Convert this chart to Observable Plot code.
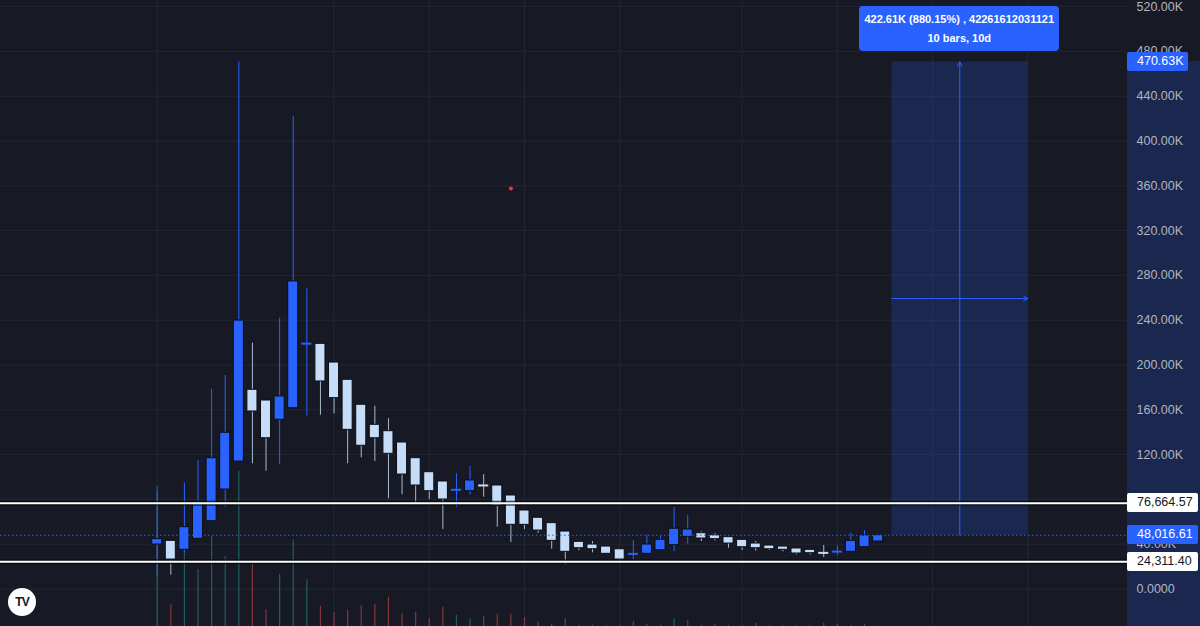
<!DOCTYPE html>
<html>
<head>
<meta charset="utf-8">
<script src="https://cdn.jsdelivr.net/npm/d3@7"></script>
<script src="https://cdn.jsdelivr.net/npm/@observablehq/plot@0.6"></script>
<style>
html,body{margin:0;padding:0;background:#171a24;overflow:hidden}
#chart{position:relative;width:1200px;height:626px;background:#171a24;font-family:"Liberation Sans",Arial,sans-serif;overflow:hidden}
#chart svg{position:absolute;left:0;overflow:visible}
.lbl{position:absolute;height:19px;line-height:19px;font-size:12.5px;padding-left:10px;box-sizing:border-box;border-radius:2px;white-space:nowrap}
</style>
</head>
<body>
<div id="chart"></div>
<script>
// ---- data (prices in thousands) ----
const opens  = [39.7,43.0,35.0,44.8,60.5,88.8,113.8,177.9,168.3,151.1,161.4,218.6,218.9,202.2,186.8,164.5,146.6,140.9,130.8,116.8,104.3,96.0,88.1,87.3,92.9,92.4,83.5,70.1,63.6,58.8,51.3,42.1,39.7,37.9,35.5,31.0,31.4,34.6,39.1,46.6,49.8,48.0,46.3,43.9,40.6,38.8,37.9,36.2,35.0,32.6,33.0,33.2,37.3,42.4];
const highs  = [86.2,43.0,94.5,114.7,178.4,190.6,470.63,219.5,168.3,241.8,421.9,268.0,218.9,202.2,186.8,164.5,163.2,152.0,130.8,116.8,104.3,96.0,102.9,109.4,102.2,92.4,83.5,70.1,63.6,58.8,51.3,42.1,42.4,37.9,35.5,43.3,48.0,46.9,72.8,65.6,51.1,49.6,46.3,43.9,42.4,38.8,37.9,36.2,35.0,38.8,38.6,49.8,52.2,48.01661];
const lows   = [10.5,12.3,32.6,44.8,60.5,73.0,113.8,111.8,105.2,110.9,161.4,154.6,155.2,156.4,111.8,117.1,113.8,80.5,84.1,75.2,79.9,53.1,73.0,83.8,82.0,55.2,41.5,53.1,49.8,35.5,21.6,34.4,32.3,31.4,22.5,26.1,31.4,34.6,33.2,40.0,42.4,43.0,36.4,34.4,33.8,34.4,33.2,30.5,30.5,28.1,29.9,33.2,37.3,42.4];
const closes = [44.5,26.3,55.2,77.9,116.8,139.5,239.7,158.5,134.6,171.9,274.6,219.5,185.3,170.4,142.1,127.9,134.6,120.7,102.2,92.4,87.3,79.9,89.0,96.9,92.0,74.3,57.3,57.3,52.2,43.0,33.2,36.4,35.5,31.4,26.3,31.7,39.7,43.9,53.8,53.1,45.1,44.5,40.6,37.3,36.4,35.5,35.0,31.7,32.0,31.9,33.75,43.0,47.8,48.01661];
const volumes = [140.3,21.7,81,57,90,70,155,62,17,52,86.7,46.7,20,14,16.3,21,22,29.3,13.3,14.3,8,19,11.3,7.7,10.3,12.3,12.3,9,4.3,2.3,7.7,1,1.3,0.8,1,5,2.3,1.3,7.7,6,1,2.3,1,0.8,3.3,0.8,0.8,0.8,0.8,3.3,2.3,1,2.3,0.5];
const yTicks = [0,40,80,120,160,200,240,280,320,360,400,440,480,520];
const gridBars = [0,13,20,27,34,43,50,57,64];
const levels = [76.66457, 24.3114];
const lastPrice = 48.01661;
const measureLow = 48.01661, measureHigh = 470.63;
const measureBars = [54, 64];
const measureText1 = "422.61K (880.15%) , 42261612031121";
const measureText2 = "10 bars, 10d";
const highLabel = "470.63K";
const markerPoint = [{bar: 26, price: 357.6}];

// ---- build ----
const W = 1200, H = 626, AXIS_W = 73;
const xDomain = [-11.52, 71.33];
const yDomain = [-33.48, 525.45];
const BG = "#171a24", GRID = "#232733", UP = "#2962ff", DOWN = "#c5ddf8", DOWNWICK = "#aab9ca";

const candles = opens.map((o, i) => ({
  i, o, h: highs[i], l: lows[i], c: closes[i], v: volumes[i], up: closes[i] >= o
}));
const doji = candles.filter(d => Math.abs(d.o - d.c) < 1.5);
const bodies = candles.filter(d => Math.abs(d.o - d.c) >= 1.5);

const common = {
  width: W, height: H, marginTop: 0, marginBottom: 0, marginLeft: 0, marginRight: AXIS_W,
  x: {domain: xDomain, axis: null},
  y: {domain: yDomain, axis: null},
  style: {background: "transparent", color: "#b2b5be", fontFamily: "'Liberation Sans', Arial, sans-serif", fontSize: "12.5px"}
};

const chart = document.getElementById("chart");

// layer 1: grid
const gridPlot = Plot.plot({
  ...common,
  marks: [
    Plot.ruleY(yTicks, {stroke: GRID, strokeWidth: 1}),
    Plot.ruleX(gridBars, {stroke: GRID, strokeWidth: 1})
  ]
});
gridPlot.style.top = "0px";
chart.appendChild(gridPlot);

// layer 2: volume
const volPlot = Plot.plot({
  width: W, height: 160, marginTop: 0, marginBottom: 0, marginLeft: 0, marginRight: AXIS_W,
  x: {domain: xDomain, axis: null},
  y: {domain: [0, 160], axis: null},
  style: {background: "transparent"},
  marks: [
    Plot.ruleX(candles, {x: "i", y1: 0, y2: "v", stroke: d => d.up ? "#26a69a" : "#ef5350", strokeOpacity: 0.5, strokeWidth: 1.2})
  ]
});
volPlot.style.top = (H - 160) + "px";
chart.appendChild(volPlot);

// axis highlight placeholder (positioned after main plot is built)
const axisHi = document.createElement("div");
chart.appendChild(axisHi);

// layer 3: main
const mainPlot = Plot.plot({
  ...common,
  marks: [
    Plot.rect([0], {x1: measureBars[0], x2: measureBars[1], y1: measureLow, y2: measureHigh, fill: UP, fillOpacity: 0.2}),
    Plot.arrow([0], {x1: (measureBars[0] + measureBars[1]) / 2, x2: (measureBars[0] + measureBars[1]) / 2, y1: measureLow, y2: measureHigh, stroke: UP, strokeWidth: 1, headLength: 7}),
    Plot.arrow([0], {x1: measureBars[0], x2: measureBars[1], y1: (measureLow + measureHigh) / 2, y2: (measureLow + measureHigh) / 2, stroke: UP, strokeWidth: 1, headLength: 7}),
    Plot.ruleX(candles, {x: "i", y1: "l", y2: "h", stroke: d => d.up ? UP : DOWNWICK, strokeWidth: 1}),
    Plot.rect(bodies, {x1: d => d.i - 0.37, x2: d => d.i + 0.37, y1: d => Math.min(d.o, d.c), y2: d => Math.max(d.o, d.c),
      fill: d => d.up ? UP : DOWN, stroke: "#0b0e15", strokeWidth: 1}),
    Plot.ruleY(doji, {x1: d => d.i - 0.37, x2: d => d.i + 0.37, y: d => (d.o + d.c) / 2, stroke: d => d.up ? UP : DOWN, strokeWidth: 2}),
    Plot.ruleY(levels, {stroke: "#05070b", strokeOpacity: 0.7, strokeWidth: 5}),
    Plot.ruleY(levels, {stroke: "#ffffff", strokeWidth: 2}),
    Plot.ruleY([lastPrice], {stroke: UP, strokeWidth: 1, strokeDasharray: "1.5,2.5"}),
    Plot.dot(markerPoint, {x: "bar", y: "price", r: 2, fill: "#f23645"}),
    Plot.axisY(yTicks, {anchor: "right", tickSize: 0, tickPadding: 9, label: null,
      tickFormat: v => v === 0 ? "0.0000" : v.toFixed(2) + "K"})
  ]
});
mainPlot.style.top = "0px";
chart.appendChild(mainPlot);

const ys = mainPlot.scale("y"), xs = mainPlot.scale("x");
const axisLeft = W - AXIS_W;

// axis highlight
const hiTop = ys.apply(measureHigh);
Object.assign(axisHi.style, {position: "absolute", left: axisLeft + "px", width: AXIS_W + "px", top: hiTop + "px", height: (H - hiTop) + "px", background: "rgba(41,98,255,0.2)"});
chart.insertBefore(axisHi, mainPlot);

function label(text, value, bg, fg, width, bold) {
  const d = document.createElement("div");
  d.className = "lbl";
  d.textContent = text;
  Object.assign(d.style, {left: axisLeft + "px", width: width + "px", top: (ys.apply(value) - 9.5) + "px", background: bg, color: fg, fontWeight: bold ? "bold" : "normal"});
  chart.appendChild(d);
}
const fmt = d3.format(",.2f");
label(highLabel, measureHigh, UP, "#ffffff", 61, false);
label(fmt(levels[0] * 1000), levels[0], "#ffffff", "#131722", 71, false);
label(fmt(lastPrice * 1000), lastPrice, UP, "#ffffff", 71, false);
label(fmt(levels[1] * 1000), levels[1], "#ffffff", "#131722", 71, false);

// measure info box
const cx = xs.apply((measureBars[0] + measureBars[1]) / 2);
const box = document.createElement("div");
Object.assign(box.style, {position: "absolute", left: (cx - 100) + "px", top: (hiTop - 55) + "px", width: "200px", height: "45px",
  background: UP, borderRadius: "4px", color: "#ffffff", fontSize: "11px", fontWeight: "bold", textAlign: "center",
  lineHeight: "19px", paddingTop: "4px", boxSizing: "border-box"});
box.innerHTML = "<div>" + measureText1 + "</div><div>" + measureText2 + "</div>";
chart.appendChild(box);

// logo
const logo = document.createElement("div");
Object.assign(logo.style, {position: "absolute", left: "8px", top: "588px", width: "28px", height: "28px", borderRadius: "14px",
  background: "#ffffff", color: "#131722", fontSize: "12px", fontWeight: "bold", textAlign: "center", lineHeight: "28px", letterSpacing: "-1px"});
logo.textContent = "TV";
chart.appendChild(logo);
</script>
</body>
</html>
